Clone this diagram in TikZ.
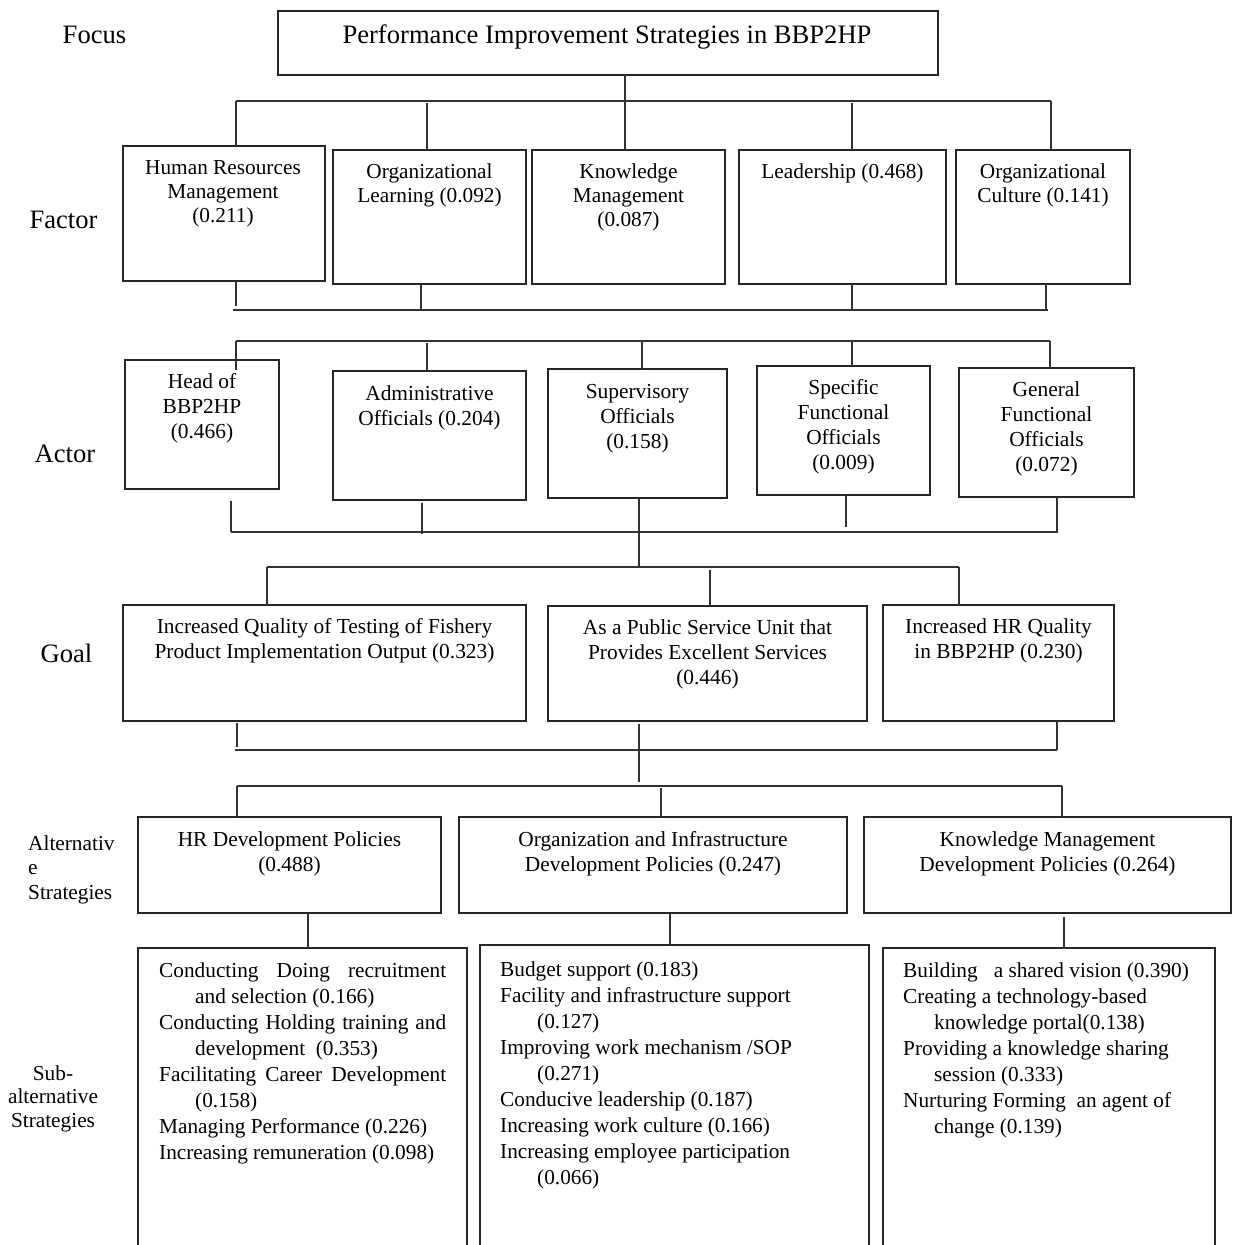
\documentclass[tikz,border=0pt]{standalone}
\usepackage{fontspec}
\setmainfont{Liberation Serif}
\usetikzlibrary{calc}
\newcommand\fbig{\fontsize{26.6}{31}\selectfont}
\newcommand\ffac{\fontsize{21.3}{24}\selectfont}
\newcommand\ftx{\fontsize{21.4}{25}\selectfont}
\newcommand\fsb{\fontsize{21.3}{26}\selectfont}
\newcommand\flab{\fontsize{21.3}{24.5}\selectfont}
\newcommand\flabb{\fontsize{21.3}{23.5}\selectfont}
\begin{document}
\begin{tikzpicture}[x=1pt,y=-1pt,
  bx/.style={draw=black!85, line width=1.3pt, inner sep=0pt, outer sep=0pt, anchor=north west},
  obx/.style={draw=none, inner sep=0pt, outer sep=0pt, anchor=north west},
  ln/.style={draw=black!80, line width=1.2pt},
  tx/.style={anchor=north, inner sep=0pt, align=center, font=\ftx},
  ftxs/.style={anchor=north, inner sep=0pt, align=center, font=\ffac},
  stx/.style={anchor=north west, inner sep=0pt, align=left, font=\fsb},
  lab/.style={anchor=base, inner sep=0pt, font=\fbig}]
\useasboundingbox (0,0) rectangle (1232,1245);

% ---------- level labels ----------
\node[lab] (lFocus) at (94.5,43) {Focus};
\node[lab] (lFactor) at (63.5,228) {Factor};
\node[lab] (lActor) at (65,462) {Actor};
\node[lab] (lGoal) at (66.5,662) {Goal};
\node[anchor=north west, inner sep=0pt, align=left, font=\flab] (lAlt) at (28,832.9) {\strut Alternativ\\e\\Strategies};
\node[anchor=north, inner sep=0pt, align=center, font=\flabb] (lSub) at (53,1063.5) {\strut Sub-\\alternative\\Strategies};

% ---------- boxes ----------
\node[bx, minimum width=660pt, minimum height=64pt] (focus) at (278,11) {};
\node[bx, minimum width=202pt, minimum height=135pt] (hrmF) at (123,146) {};
\node[bx, minimum width=193pt, minimum height=134pt] (olF) at (333,150) {};
\node[bx, minimum width=193pt, minimum height=134pt] (kmF) at (532,150) {};
\node[bx, minimum width=207pt, minimum height=134pt] (ldF) at (739,150) {};
\node[bx, minimum width=174pt, minimum height=134pt] (ocF) at (956,150) {};

\node[bx, minimum width=154pt, minimum height=129pt] (head) at (125,360) {};
\node[bx, minimum width=193pt, minimum height=129pt] (adm) at (333,371) {};
\node[bx, minimum width=179pt, minimum height=129pt] (sup) at (548,369) {};
\node[bx, minimum width=173pt, minimum height=129pt] (spec) at (757,366) {};
\node[bx, minimum width=175pt, minimum height=129pt] (gen) at (959,368) {};

\node[bx, minimum width=403pt, minimum height=116pt] (g1) at (123,605) {};
\node[bx, minimum width=319pt, minimum height=115pt] (g2) at (548,606) {};
\node[bx, minimum width=231pt, minimum height=116pt] (g3) at (883,605) {};

\node[bx, minimum width=303pt, minimum height=96pt] (a1) at (138,817) {};
\node[bx, minimum width=388pt, minimum height=96pt] (a2) at (459,817) {};
\node[bx, minimum width=367pt, minimum height=96pt] (a3) at (864,817) {};

\node[obx, minimum width=329pt, minimum height=297pt] (s1) at (138,948) {};
\node[obx, minimum width=389pt, minimum height=300pt] (s2) at (480,945) {};
\node[obx, minimum width=332pt, minimum height=297pt] (s3) at (883,948) {};
\foreach \s in {s1,s2,s3}
  \draw[draw=black!85, line width=1.3pt] (\s.south west) -- (\s.north west) -- (\s.north east) -- (\s.south east);

% ---------- box texts ----------
\node[anchor=base, inner sep=0pt, font=\fbig] (focusT) at (607,43) {Performance Improvement Strategies in BBP2HP};

\node[ftxs] (hrmT) at (223,157.2) {\strut Human Resources\\Management\\(0.211)};
\node[ftxs] (olT) at (429.5,161.2) {\strut Organizational\\Learning (0.092)};
\node[ftxs] (kmT) at (628.5,161.2) {\strut Knowledge\\Management\\(0.087)};
\node[ftxs] (ldT) at (842.5,161.2) {\strut Leadership (0.468)};
\node[ftxs] (ocT) at (1043,161.2) {\strut Organizational\\Culture (0.141)};

\node[tx] (headT) at (202,370.5) {\strut Head of\\BBP2HP\\(0.466)};
\node[tx] (admT) at (429.5,382.5) {\strut Administrative\\Officials (0.204)};
\node[tx] (supT) at (637.5,380.5) {\strut Supervisory\\Officials\\(0.158)};
\node[tx] (specT) at (843.5,376.5) {\strut Specific\\Functional\\Officials\\(0.009)};
\node[tx] (genT) at (1046.5,378.5) {\strut General\\Functional\\Officials\\(0.072)};

\node[tx] (g1T) at (324.5,615.5) {\strut Increased Quality of Testing of Fishery\\Product Implementation Output (0.323)};
\node[tx] (g2T) at (707.5,616.5) {\strut As a Public Service Unit that\\Provides Excellent Services\\(0.446)};
\node[tx] (g3T) at (998.5,615.5) {\strut Increased HR Quality\\in BBP2HP (0.230)};

\node[tx] (a1T) at (289.5,828.5) {\strut HR Development Policies\\(0.488)};
\node[tx] (a2T) at (653,828.5) {\strut Organization and Infrastructure\\Development Policies (0.247)};
\node[tx] (a3T) at (1047.5,828.5) {\strut Knowledge Management\\Development Policies (0.264)};

\node[stx] (s1T) at (159,958.8) {\strut\makebox[287pt][s]{Conducting Doing recruitment}\\
\hspace*{36pt}and selection (0.166)\\
\makebox[287pt][s]{Conducting Holding training and}\\
\hspace*{36pt}development\ \ (0.353)\\
\makebox[287pt][s]{Facilitating Career Development}\\
\hspace*{36pt}(0.158)\\
Managing Performance (0.226)\\
Increasing remuneration (0.098)};

\node[stx] (s2T) at (500,957.8) {\strut Budget support (0.183)\\
Facility and infrastructure support\\
\hspace*{37pt}(0.127)\\
Improving work mechanism /SOP\\
\hspace*{37pt}(0.271)\\
Conducive leadership (0.187)\\
Increasing work culture (0.166)\\
Increasing employee participation\\
\hspace*{37pt}(0.066)};

\node[stx] (s3T) at (903,958.8) {\strut Building\ \ \ a shared vision (0.390)\\
Creating a technology-based\\
\hspace*{31pt}knowledge portal(0.138)\\
Providing a knowledge sharing\\
\hspace*{31pt}session (0.333)\\
Nurturing Forming\ \ an agent of\\
\hspace*{31pt}change (0.139)};

% ---------- connectors ----------
% focus -> factors
\coordinate (b1l) at (236,101);
\coordinate (b1r) at (1051,101);
\coordinate (d1b) at (427,103);
\coordinate (d1c) at (625,101);
\coordinate (d1d) at (852,103);
\draw[ln] (b1l) -- (b1r);
\draw[ln] (d1c |- focus.south) -- (d1c |- kmF.north);
\draw[ln] (b1l) -- (b1l |- hrmF.north);
\draw[ln] (d1b) -- (d1b |- olF.north);
\draw[ln] (d1d) -- (d1d |- ldF.north);
\draw[ln] (b1r) -- (b1r |- ocF.north);

% factors -> bus
\coordinate (b2l) at (233,310);
\coordinate (b2r) at (1048,310);
\coordinate (u2a) at (236,306);
\coordinate (u2b) at (421,310);
\coordinate (u2c) at (852,310);
\coordinate (u2d) at (1046,310);
\draw[ln] (b2l) -- (b2r);
\draw[ln] (u2a |- hrmF.south) -- (u2a);
\draw[ln] (u2b |- olF.south) -- (u2b);
\draw[ln] (u2c |- ldF.south) -- (u2c);
\draw[ln] (u2d |- ocF.south) -- (u2d);

% bus -> actors
\coordinate (b3l) at (236,341);
\coordinate (b3r) at (1050,341);
\coordinate (d3b) at (427,343);
\coordinate (d3c) at (642,341);
\coordinate (d3d) at (852,341);
\draw[ln] (b3l) -- (b3r);
\draw[ln] (b3l) -- ($(b3l |- head.north)+(0,10)$);
\draw[ln] (d3b) -- (d3b |- adm.north);
\draw[ln] (d3c) -- (d3c |- sup.north);
\draw[ln] (d3d) -- (d3d |- spec.north);
\draw[ln] (b3r) -- (b3r |- gen.north);

% actors -> bus
\coordinate (b4l) at (231,532);
\coordinate (b4r) at (1058,532);
\coordinate (u4b) at (422,534);
\coordinate (u4c) at (639,567);
\coordinate (u4d) at (846,527);
\coordinate (u4e) at (1057,532);
\draw[ln] (b4l) -- (b4r);
\draw[ln] ($(b4l |- head.south)+(0,12)$) -- (b4l);
\draw[ln] ($(u4b |- adm.south)+(0,3)$) -- (u4b);
\draw[ln] (u4c |- sup.south) -- (u4c);
\draw[ln] (u4d |- spec.south) -- (u4d);
\draw[ln] (u4e |- gen.south) -- (u4e);

% bus -> goals
\coordinate (b5l) at (267,567);
\coordinate (b5r) at (959,567);
\coordinate (d5b) at (710,570);
\draw[ln] (b5l) -- (b5r);
\draw[ln] (b5l) -- (b5l |- g1.north);
\draw[ln] (d5b) -- (d5b |- g2.north);
\draw[ln] (b5r) -- (b5r |- g3.north);

% goals -> bus
\coordinate (b6l) at (235,750);
\coordinate (b6r) at (1057,750);
\coordinate (u6a) at (237,747);
\coordinate (u6b) at (639,782);
\draw[ln] (b6l) -- (b6r);
\draw[ln] ($(u6a |- g1.south)+(0,2)$) -- (u6a);
\draw[ln] ($(u6b |- g2.south)+(0,3)$) -- (u6b);
\draw[ln] (b6r |- g3.south) -- (b6r);

% bus -> alternatives
\coordinate (b7l) at (237,786);
\coordinate (b7r) at (1062,786);
\coordinate (d7b) at (661,788);
\draw[ln] (b7l) -- (b7r);
\draw[ln] (b7l) -- (b7l |- a1.north);
\draw[ln] (d7b) -- (d7b |- a2.north);
\draw[ln] (b7r) -- (b7r |- a3.north);

% alternatives -> sub-alternatives
\coordinate (d8a) at (308,0);
\coordinate (d8b) at (670,0);
\coordinate (d8c) at (1064,0);
\draw[ln] (d8a |- a1.south) -- (d8a |- s1.north);
\draw[ln] (d8b |- a2.south) -- (d8b |- s2.north);
\draw[ln] ($(d8c |- a3.south)+(0,4)$) -- (d8c |- s3.north);
\end{tikzpicture}
\end{document}
